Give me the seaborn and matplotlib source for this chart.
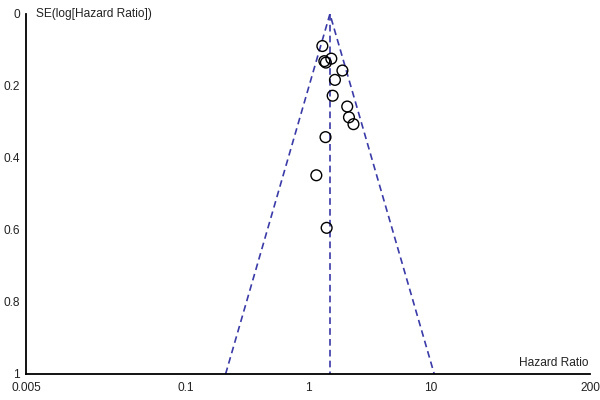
import matplotlib
matplotlib.use("Agg")

import matplotlib.pyplot as plt
import numpy as np
import pandas as pd
import seaborn as sns

# ---------------------------------------------------------------------------
# DATA
# ---------------------------------------------------------------------------
hazard_ratio = [1.31, 1.55, 1.36, 1.40, 1.91, 1.66, 1.59, 2.09, 2.16, 2.35, 1.39, 1.17, 1.42]
se_log_hr = [0.089, 0.124, 0.131, 0.135, 0.157, 0.183, 0.227, 0.257, 0.287, 0.306, 0.342, 0.448, 0.594]
pooled_hr = 1.51
se_limits = [0.0, 1.0]

x_ticks = [0.005, 0.1, 1, 10, 200]
x_tick_labels = ["0.005", "0.1", "1", "10", "200"]
y_ticks = [0, 0.2, 0.4, 0.6, 0.8, 1]
y_tick_labels = ["0", "0.2", "0.4", "0.6", "0.8", "1"]

LINE_COLOR = "#3a3aa8"
TEXT_COLOR = "#222222"
FONT_SIZE = 8.6

sns.set_style("white")
plt.rcParams["font.family"] = ["Liberation Sans", "DejaVu Sans"]

df = pd.DataFrame({"hr": hazard_ratio, "se": se_log_hr})

# funnel: 95% limits around pooled estimate
se_arr = np.array(se_limits)
funnel = pd.DataFrame({
    "se": np.concatenate([se_arr[::-1], se_arr]),
    "hr": np.concatenate([np.exp(np.log(pooled_hr) - 1.96 * se_arr[::-1]),
                          np.exp(np.log(pooled_hr) + 1.96 * se_arr)]),
})
center = pd.DataFrame({"se": se_limits, "hr": [pooled_hr] * len(se_limits)})

fig = plt.figure(figsize=(6, 4), dpi=100)
ax = fig.add_axes([0.0433, 0.065, 0.94, 0.9])

sns.lineplot(data=funnel, x="hr", y="se", sort=False, estimator=None, ax=ax,
             color=LINE_COLOR, linestyle=(0, (4, 2.5)), linewidth=1.2)
sns.lineplot(data=center, x="hr", y="se", sort=False, estimator=None, ax=ax,
             color=LINE_COLOR, linestyle=(0, (4, 2.5)), linewidth=1.2)
sns.scatterplot(data=df, x="hr", y="se", ax=ax, s=60, facecolor="none",
                edgecolor="black", linewidth=1.0, zorder=3)

ax.set_xscale("log")
ax.set_xlim(0.005, 200)
ax.set_ylim(1, 0)
ax.set_xticks(x_ticks)
ax.set_xticklabels(x_tick_labels)
ax.set_yticks(y_ticks)
ax.set_yticklabels(y_tick_labels)
ax.minorticks_off()
ax.set_xlabel("")
ax.set_ylabel("")

for side in ["top", "right"]:
    ax.spines[side].set_visible(False)
for side in ["left", "bottom"]:
    ax.spines[side].set_linewidth(1.3)
    ax.spines[side].set_color("black")

ax.tick_params(axis="both", direction="inout", length=7, width=1.0,
               labelsize=FONT_SIZE, colors="black", labelcolor=TEXT_COLOR, pad=1)
ax.tick_params(axis="x", pad=2)

ax.text(0.006, 0.0, "SE(log[Hazard Ratio])", fontsize=FONT_SIZE, color=TEXT_COLOR,
        ha="left", va="center")
ax.text(195, 0.985, "Hazard Ratio", fontsize=FONT_SIZE, color=TEXT_COLOR,
        ha="right", va="bottom")

fig.savefig("out.png", dpi=100)
